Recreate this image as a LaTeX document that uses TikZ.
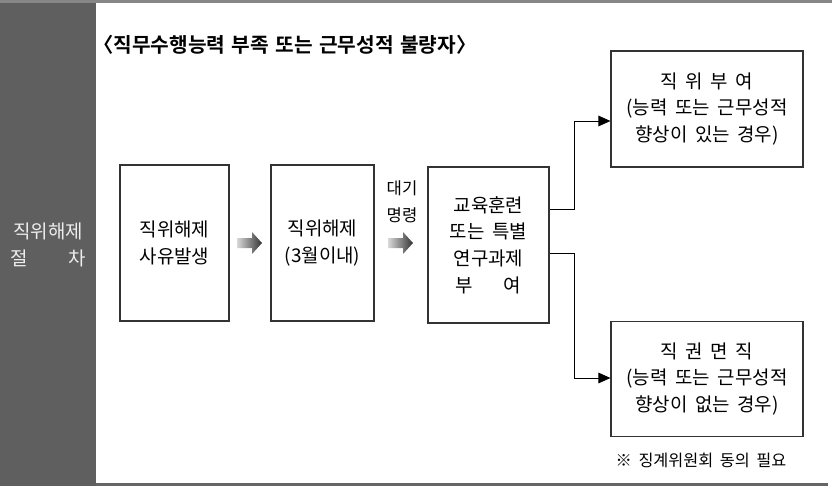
\documentclass[tikz,border=0pt]{standalone}
\usepackage{fontspec}
\setmainfont[WordSpace=1.8]{Noto Sans CJK KR}
\newfontfamily\krbold[WordSpace=1.4]{Noto Sans CJK KR Bold}
\usetikzlibrary{arrows.meta,calc}
\definecolor{panelgray}{HTML}{5F5F5F}
\definecolor{linegray}{HTML}{333333}
\tikzset{
  box/.style={draw=linegray, line width=0.9pt, fill=white, align=center, inner sep=0pt,
    font=\fontsize{14.2pt}{20pt}\selectfont},
  conn/.style={draw=black, line width=0.6pt, -{Triangle[length=9pt,width=8pt]}},
  fatarrow/.style={left color=gray!30, right color=black!80, draw=none},
}
\begin{document}
\begin{tikzpicture}[x=0.75pt,y=-0.75pt]
\useasboundingbox (0,0) rectangle (832,486);
% frame
\fill[panelgray] (0,0) rectangle (96,486);
\fill[gray!95] (0,0) rectangle (832,3);
\fill[gray!80!black] (96,483) rectangle (828,486);
\node[text=white!93!black, align=center, font=\fontsize{14.2pt}{20pt}\selectfont] (panel) at (48,245)
  {직위해제\\\makebox[4em][s]{절\hfill 차}};
% title
\node[anchor=west, inner sep=0pt, font=\krbold\fontsize{15.2pt}{18pt}\selectfont] (title) at (93,45)
  {〈직무수행능력 부족 또는 근무성적 불량자〉};
% boxes
\node[box, minimum width=81.75pt, minimum height=117pt] (b1) at (174.5,243) {직위해제\\사유발생};
\node[box, minimum width=77.25pt, minimum height=117pt] (b2) at (322.5,243) {직위해제\\(3월이내)};
\node[box, minimum width=90.75pt, minimum height=117pt] (b3) at (488.5,245)
  {교육훈련\\또는 특별\\연구과제\\부\hspace{1.6em}여};
\node[box, minimum width=144pt, minimum height=87pt] (b4) at (707,109)
  {직 위 부 여\\(능력 또는 근무성적\\향상이 있는 경우)};
\node[box, minimum width=144pt, minimum height=86.25pt] (b5) at (707,379)
  {직 권 면 직\\(능력 또는 근무성적\\향상이 없는 경우)};
% label
\node[align=center, font=\fontsize{12.5pt}{20pt}\selectfont] (wait) at (402,202) {대기\\명령};
\node[font=\fontsize{12.2pt}{14pt}\selectfont] (note) at (701,460) {※ 징계위원회 동의 필요};
% fat arrows
\foreach \x/\nm in {237/a1,388/a2}{
  \shade[fatarrow] (\x,238) -- (\x+15,238) -- (\x+15,232) -- (\x+25,243) -- (\x+15,254) -- (\x+15,248) -- (\x,248) -- cycle;
}
% connectors
\coordinate (j1) at (574,209);
\coordinate (j2) at (574,253);
\draw[conn] (b3.east |- j1) -- (j1) -- (574,121) -- (b4.west |- 0,121);
\draw[conn] (b3.east |- j2) -- (j2) -- (574,378) -- (b5.west |- 0,378);
\end{tikzpicture}
\end{document}
